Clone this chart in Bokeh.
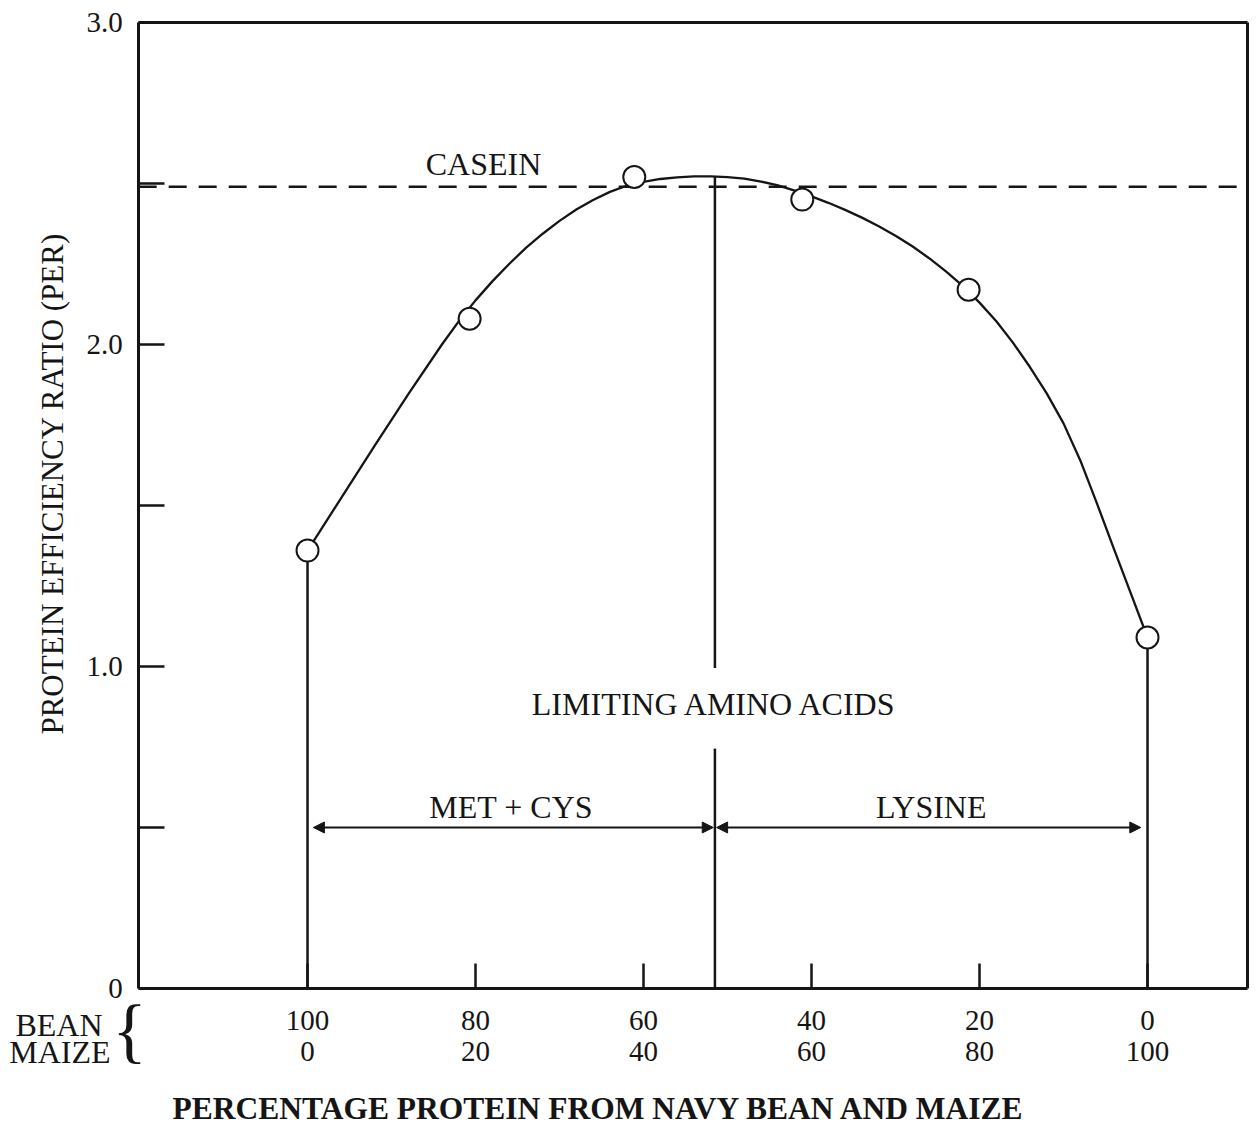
import math
import numpy as np
from bokeh.plotting import figure
from bokeh.models import (Range1d, LinearAxis, FixedTicker, Arrow,
                          NormalHead, Label)
from bokeh.embed import file_html
from bokeh.resources import INLINE

# ---------------- data ----------------
maize_pct = [0, 19.3, 38.9, 58.9, 78.7, 100]   # % protein from maize (points as drawn)
per_values = [1.36, 2.08, 2.52, 2.45, 2.17, 1.09]

curve_maize = [0, 4, 8, 12, 16, 18, 20, 22, 24, 26, 28, 30, 32, 34, 36, 38,
               40, 42, 44, 46, 48, 50, 52, 54, 56, 58, 60, 62, 64, 66, 68,
               70, 72, 74, 76, 78, 80, 82, 84, 86, 88, 90, 92, 94, 96, 98, 100]
curve_per = [1.36, 1.523, 1.686, 1.846, 2.0, 2.072, 2.137, 2.196, 2.25, 2.30,
             2.344, 2.384, 2.419, 2.449, 2.474, 2.493, 2.505, 2.514, 2.519,
             2.522, 2.522, 2.52, 2.515, 2.506, 2.494, 2.478, 2.46, 2.44,
             2.418, 2.394, 2.367, 2.338, 2.305, 2.268, 2.227, 2.182, 2.13,
             2.072, 2.005, 1.93, 1.848, 1.755, 1.64, 1.505, 1.365, 1.228, 1.09]

casein_per = 2.49          # casein reference level
crossover_maize = 48.5     # limiting amino acid changes here
arrow_level = 0.5

x_ticks = [0, 20, 40, 60, 80, 100]
bean_labels = ["100", "80", "60", "40", "20", "0"]
maize_labels = ["0", "20", "40", "60", "80", "100"]
y_ticks = [0, 0.5, 1, 1.5, 2, 2.5, 3]
y_labels = ["0", "", "1.0", "", "2.0", "", "3.0"]

# ---------------- layout / styling ----------------
INK = "#151515"
SERIF = "Liberation Serif"
BOX_X = (-20.1, 111.9)     # plotted box in maize-% units
BOX_Y = (0, 3.0)

p = figure(frame_width=1250, frame_height=1125,
           x_range=Range1d(-36.55, 112.26), y_range=Range1d(-0.4255, 3.0683),
           x_axis_type=None, y_axis_type=None,
           output_backend="svg", toolbar_location=None,
           min_border=0, background_fill_color="white",
           border_fill_color="white")
p.grid.visible = False
p.outline_line_color = None

def axis_common(ax, width=3):
    ax.axis_line_color = INK
    ax.axis_line_width = width
    ax.major_tick_line_color = INK
    ax.major_tick_line_width = 2.5
    ax.minor_tick_line_color = None
    ax.major_tick_out = 0
    ax.major_label_text_font = SERIF
    ax.major_label_text_color = INK

# bottom axis: bean %
xa = LinearAxis(fixed_location=0, bounds=BOX_X,
                ticker=FixedTicker(ticks=x_ticks),
                major_label_overrides=dict(zip(x_ticks, bean_labels)))
axis_common(xa)
xa.major_tick_in = 25
xa.major_label_text_font_size = "29px"
xa.major_label_standoff = 23
p.add_layout(xa, "below")

# second row of bottom labels: maize %
xa2 = LinearAxis(fixed_location=0, bounds=BOX_X,
                 ticker=FixedTicker(ticks=x_ticks),
                 major_label_overrides=dict(zip(x_ticks, maize_labels)))
axis_common(xa2)
xa2.axis_line_color = None
xa2.major_tick_line_color = None
xa2.major_label_text_font_size = "29px"
xa2.major_label_standoff = 54
p.add_layout(xa2, "below")

# left axis
ya = LinearAxis(fixed_location=BOX_X[0], bounds=BOX_Y,
                ticker=FixedTicker(ticks=y_ticks),
                major_label_overrides=dict(zip(y_ticks, y_labels)))
axis_common(ya)
ya.major_tick_in = 26
ya.major_label_text_font_size = "29px"
ya.major_label_standoff = 16
p.add_layout(ya, "left")

# box: top and right edges
ra = LinearAxis(fixed_location=BOX_X[1], bounds=BOX_Y,
                ticker=FixedTicker(ticks=[]))
axis_common(ra)
p.add_layout(ra, "right")
ta = LinearAxis(fixed_location=BOX_Y[1], bounds=BOX_X,
                ticker=FixedTicker(ticks=[]))
axis_common(ta)
p.add_layout(ta, "above")

# casein reference (dashed)
p.segment(x0=[BOX_X[0]], y0=[casein_per], x1=[BOX_X[1]], y1=[casein_per],
          line_color=INK, line_width=2.5, line_dash="18 12")

# vertical guide lines
top_cross = float(np.interp(crossover_maize, curve_maize, curve_per))
p.segment(x0=[maize_pct[0], maize_pct[-1], crossover_maize, crossover_maize],
          y0=[per_values[0], per_values[-1], top_cross, 0.745],
          x1=[maize_pct[0], maize_pct[-1], crossover_maize, crossover_maize],
          y1=[0, 0, 0.995, 0], line_color=INK, line_width=2.5)

# curve
p.line(curve_maize, curve_per, line_color=INK, line_width=2.3,
       line_join="round")

# points
p.scatter(maize_pct, per_values, marker="circle", size=22,
          fill_color="white", line_color=INK, line_width=2)

# arrows
def head():
    return NormalHead(size=11, fill_color=INK, line_color=INK, line_width=1)

p.add_layout(Arrow(start=head(), end=head(), x_start=maize_pct[0] + 0.7,
                   y_start=arrow_level, x_end=crossover_maize - 0.2,
                   y_end=arrow_level, line_color=INK, line_width=2))
p.add_layout(Arrow(start=head(), end=head(), x_start=crossover_maize + 0.2,
                   y_start=arrow_level, x_end=maize_pct[-1] - 0.8,
                   y_end=arrow_level, line_color=INK, line_width=2))

# annotation texts
def lab(x, y, t, size="32px", align="center", style="normal", angle=0):
    p.add_layout(Label(x=x, y=y, text=t, text_font=SERIF, text_font_size=size,
                       text_color=INK, text_align=align, text_font_style=style,
                       text_baseline="middle", angle=angle))

lab(20.95, 2.562, "CASEIN")
lab(crossover_maize, 0.885, "LIMITING AMINO ACIDS")
lab((maize_pct[0] + crossover_maize) / 2, 0.565, "MET + CYS")
lab((crossover_maize + maize_pct[-1]) / 2, 0.565, "LYSINE")

# row labels under the axis
lab(-24.4, -0.112, "BEAN", size="32px", align="right")
lab(-23.45, -0.196, "MAIZE", size="32px", align="right")
lab(-21.2, -0.13, "{", size="72px")

# axis titles
lab(-16.07, -0.372, "PERCENTAGE PROTEIN FROM NAVY BEAN AND MAIZE",
    size="31.5px", align="left", style="bold")
lab(-30.36, 1.568, "PROTEIN EFFICIENCY RATIO (PER)", size="31px",
    angle=math.pi / 2)

open("out.html", "w").write(file_html(p, INLINE))
